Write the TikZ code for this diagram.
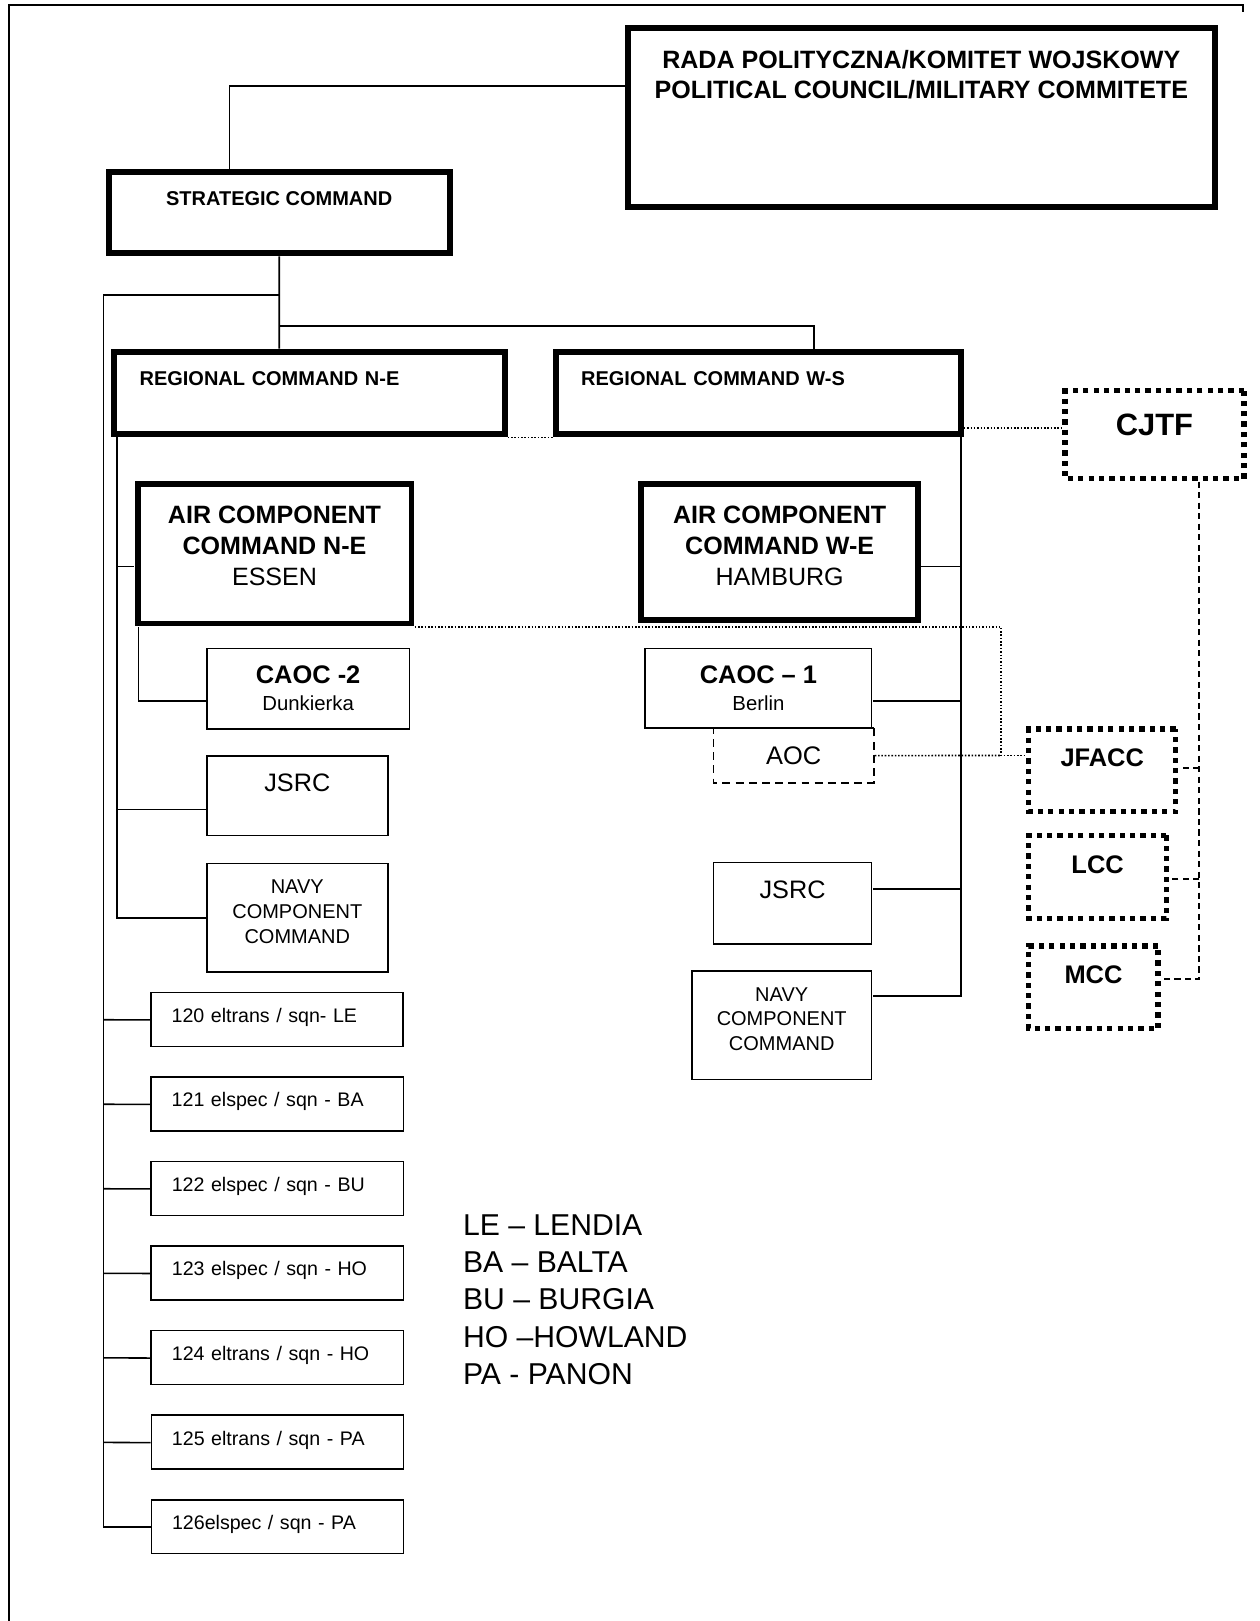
\documentclass[tikz,border=0pt]{standalone}
\usepackage{fontspec}
\setmainfont{Liberation Sans}
\usetikzlibrary{positioning}
\begin{document}
\begin{tikzpicture}[x=0.02cm,y=-0.02cm,scale=1.034,transform shape,node distance=1.63cm,line width=0.9pt]
	\tikzset{heavy/.style={draw,line width=3.4pt,inner sep=0pt,align=center},
		plain/.style={draw,line width=0.9pt,inner sep=0pt,align=center},
		dotbox/.style={draw,line width=3pt,dash pattern=on 3pt off 2.9pt,inner sep=0pt,align=center,font=\bfseries\fontsize{14}{16}\selectfont},
		wh/.style 2 args={minimum width=#1,minimum height=#2},
		up/.style={text depth=#1},
		dotlink/.style={line width=0.9pt,densely dotted},
		dashlink/.style={line width=1.1pt,dash pattern=on 3.5pt off 2.5pt},
		sqn/.style={plain,wh={4.88cm}{1.04cm},text width=4.08cm,align=left,up=0.16cm,font=\fontsize{10.8}{12}\selectfont}}
	\useasboundingbox (0,0) rectangle (1218.5,1567.7);
	\draw[line width=1pt] (9,1567.7) -- (9,5) -- (1202,5) -- (1202,12);
	\node[heavy,wh={11.36cm}{3.46cm},up=1.68cm,font=\bfseries\fontsize{13.8}{16.5}\selectfont] (RADA) at (891,113.5) {RADA POLITYCZNA/KOMITET WOJSKOWY\\POLITICAL COUNCIL/MILITARY COMMITETE};
	\node[heavy,wh={6.6cm}{1.58cm},up=0.54cm,font=\bfseries\fontsize{11}{12}\selectfont] (SC) at (270,205.5) {STRATEGIC COMMAND};
	\node[heavy,wh={7.56cm}{1.6cm},up=0.56cm,text width=6.56cm,align=left,font=\bfseries\fontsize{11}{12}\selectfont] (RCNE) at (299,380) {REGIONAL COMMAND N-E};
	\node[heavy,wh={7.82cm}{1.6cm},up=0.56cm,text width=6.86cm,align=left,font=\bfseries\fontsize{11}{12}\selectfont] (RCWS) at (733.5,380) {REGIONAL COMMAND W-S};
	\node[dotbox,wh={3.46cm}{1.7cm},up=0.38cm,font=\bfseries\fontsize{17}{19}\selectfont] (CJTF) at (1116.5,420.5) {CJTF};
	\node[heavy,wh={5.3cm}{2.7cm},up=0.3cm,font=\bfseries\fontsize{13.8}{17}\selectfont] (ACCNE) at (265.5,535.5) {AIR COMPONENT\\COMMAND N-E\\\mdseries ESSEN};
	\node[heavy,wh={5.36cm}{2.64cm},up=0.26cm,font=\bfseries\fontsize{13.8}{17}\selectfont] (ACCWE) at (754,534) {AIR COMPONENT\\COMMAND W-E\\\mdseries HAMBURG};
	\node[plain,wh={3.92cm}{1.56cm},font=\fontsize{11.2}{14.8}\selectfont] (CAOC2) at (298,666) {{\bfseries\fontsize{14}{14.8}\selectfont CAOC -2}\\Dunkierka};
	\node[plain,wh={3.1cm}{1.06cm},dash pattern=on 4.5pt off 3pt,font=\fontsize{14}{16}\selectfont] (AOC) at (767.5,730.5) {AOC};
	\node[plain,wh={4.38cm}{1.54cm},font=\fontsize{11.2}{14.8}\selectfont] (CAOC1) at (733.5,665.5) {{\bfseries\fontsize{14}{14.8}\selectfont CAOC – 1}\\Berlin};
	\node[plain,wh={3.5cm}{1.54cm},up=0.5cm,font=\fontsize{13.9}{16}\selectfont] (JSRC1) at (287.5,769.5) {JSRC};
	\node[plain,wh={3.5cm}{2.1cm},up=0.24cm,font=\fontsize{11}{13.6}\selectfont] (NCC1) at (287.5,887.5) {NAVY\\COMPONENT\\COMMAND};
	\node[plain,wh={3.06cm}{1.58cm},up=0.54cm,font=\fontsize{13.9}{16}\selectfont] (JSRC2) at (766.5,873.5) {JSRC};
	\node[plain,wh={3.48cm}{2.1cm},up=0.24cm,font=\fontsize{11}{13.6}\selectfont] (NCC2) at (756,991.5) {NAVY\\COMPONENT\\COMMAND};
	\node[dotbox,wh={2.84cm}{1.6cm},up=0.48cm] (JFACC) at (1066,745) {JFACC};
	\node[dotbox,wh={2.66cm}{1.6cm},up=0.48cm] (LCC) at (1061.5,848) {LCC};
	\node[dotbox,wh={2.5cm}{1.6cm},up=0.48cm] (MCC) at (1057.5,955) {MCC};
	\node[sqn] (S120) at (268,986) {120 eltrans / sqn- LE};
	\node[sqn] (S121) [below of=S120] {121 elspec / sqn - BA};
	\node[sqn] (S122) [below of=S121] {122 elspec / sqn - BU};
	\node[sqn] (S123) [below of=S122] {123 elspec / sqn - HO};
	\node[sqn] (S124) [below of=S123] {124 eltrans / sqn - HO};
	\node[sqn] (S125) [below of=S124] {125 eltrans / sqn - PA};
	\node[sqn] (S126) [below of=S125] {126elspec / sqn - PA};
	\node[anchor=west,align=left,inner sep=0pt,font=\fontsize{16.6}{20.5}\selectfont] (legend) at (447,1257) {LE – LENDIA\\BA – BALTA\\BU – BURGIA\\HO –HOWLAND\\PA - PANON};
	\coordinate (rc) at (222,83);
	\coordinate (ws) at (787,315);
	\coordinate (trunk) at (100,285);
	\coordinate (neline) at (113,420);
	\coordinate (wsline) at (929,420);
	\coordinate (jn) at (968,730.5);
	\draw (RADA.west |- rc) -| (SC.north -| rc);
	\draw (SC) -- (SC |- RCNE.north);
	\draw (SC |- ws) -| (ws |- RCWS.north);
	\draw (SC |- trunk) -- (trunk) |- (S126);
	\foreach \n in {120,...,125}
		\draw (trunk |- S\n) -- (S\n);
	\draw (neline) |- (NCC1);
	\foreach \b/\y in {ACCNE/548,JSRC1/783}
		\draw (neline |- 0,\y) -- (\b.west |- 0,\y);
	\draw (ACCNE.south -| 134,0) |- (CAOC2.west |- 0,678);
	\draw (wsline) |- (NCC2.east |- 0,963);
	\foreach \b/\y in {ACCWE/548,CAOC1/678,JSRC2/860}
		\draw (wsline |- 0,\y) -- (\b.east |- 0,\y);
	\draw[dotlink] (RCNE.south east) -- (RCWS.south west);
	\draw[dotlink] (RCWS.east |- 0,414) -- (CJTF.west |- 0,414);
	\draw[dotlink] (ACCNE.south east) -| (jn) -- (JFACC.west |- jn);
	\draw[dotlink] (AOC) -- (jn);
	\draw[dashlink] (CJTF.south -| 1160,0) |- (MCC.east |- 0,947);
	\foreach \b/\y in {JFACC/743,LCC/850}
		\draw[dashlink] (1160,\y) -- (\b.east |- 0,\y);
\end{tikzpicture}
\end{document}
